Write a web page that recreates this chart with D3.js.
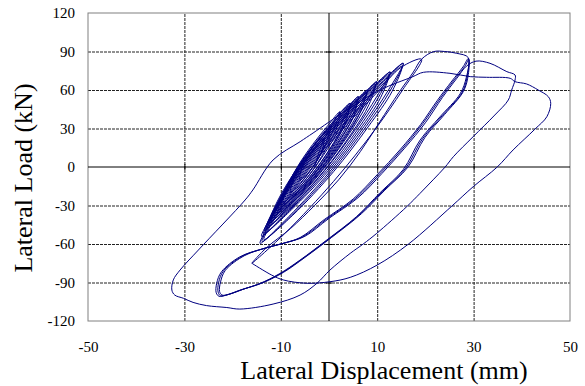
<!DOCTYPE html>
<html><head><meta charset="utf-8">
<script src="https://cdn.jsdelivr.net/npm/d3@7"></script>
<style>body{margin:0;background:#fff}svg{display:block}</style>
</head><body>
<svg id="c" width="585" height="386"></svg>
<script>
// ---- tick values / labels ----
const xTicks = [-50, -30, -10, 10, 30, 50];
const yTicks = [-120, -90, -60, -30, 0, 30, 60, 90, 120];
const xGrid = [-30, -10, 10, 30];
const yGrid = [-90, -60, -30, 30, 60, 90];
const xTitle = "Lateral Displacement (mm)";
const yTitle = "Lateral Load (kN)";

// ---- hysteresis record: [displacement mm, load kN] ----
const coreCycles = [
  [-3,0],[-2,12],
  [-1,22],[-1.15,17.2],[-1.67,10.8],[-2.8,2.8],[-4.53,-5.2],[-6,-10],[-5.97,-5.2],[-5.2,2.8],[-3.83,10.8],[-2.35,17.2],[-1,22],
  [0.5,32],[-0.1,24.2],[-1.2,13.8],[-3.2,0.8],[-5.9,-12.2],[-8,-20],[-7.6,-12.2],[-6.0,0.8],[-3.7,13.8],[-1.5,24.2],[0.5,32],
  [2.3,43],[1.3,32],[-0.6,17.5],[-3.5,-0.8],[-7.2,-19],[-10,-30],[-9.1,-19],[-6.7,-0.8],[-3.4,17.5],[-0.3,32],[2.3,43],
  [1.7,31.5],[-0.2,17],[-3.1,-1],[-6.8,-18.5],[-9.6,-28],[-8.8,-18],[-6.4,-0.5],[-3.1,17],[0,31],[2.0,41],
  [4.4,49.6],[3.0,36.8],[0.6,19.6],[-3.2,-1.8],[-7.8,-23.2],[-11.2,-36],[-9.9,-23.2],[-6.8,-1.8],[-2.7,19.6],[1.2,36.8],[4.4,49.6],
  [3.4,36.5],[1.0,19.2],[-2.8,-2],[-7.4,-22.5],[-10.8,-34],[-9.6,-22.5],[-6.5,-1.5],[-2.4,19.5],[1.5,36.5],[4.1,47.5],
  [3.6,36],[1.3,19],[-2.5,-2.2],[-7.1,-22],[-10.5,-33],[-9.3,-22],[-6.2,-1.3],[-2.1,19.3],[1.7,36],[4.0,46.5],
  [6.1,54.8],[4.4,40.4],[1.5,21.3],[-2.9,-2.7],[-8.3,-26.6],[-12.2,-41],[-10.7,-26.6],[-6.9,-2.7],[-2.1,21.3],[2.4,40.4],[6.1,54.8],
  [4.8,40],[1.9,21],[-2.5,-2.8],[-7.9,-26],[-11.8,-39.5],[-10.4,-26],[-6.6,-2.5],[-1.8,21],[2.7,40],[5.8,52.5],
  [5.1,39.6],[2.3,20.7],[-2.1,-2.9],[-7.5,-25.5],[-11.4,-38],[-10.1,-25.5],[-6.3,-2.3],[-1.5,20.7],[3.0,39.6],[5.6,51.5],
  [8,60],[5.9,44.3],[2.6,23.3],[-2.4,-3],[-8.4,-29.3],[-12.8,-45],[-10.9,-29.3],[-6.6,-3],[-1.2,23.3],[3.8,44.3],[8,60],
  [6.3,44],[3.0,23],[-2.0,-3],[-8.0,-28.5],[-12.4,-43.5],[-10.6,-28.5],[-6.3,-2.8],[-0.9,23],[4.1,44],[7.7,58],
  [6.6,43.6],[3.4,22.8],[-1.6,-3],[-7.6,-27.8],[-12,-42],[-10.3,-27.8],[-6,-2.7],[-0.6,22.8],[4.4,43.6],[7.5,57],
  [9.9,66.5],[7.5,49.2],[3.8,26.1],[-1.8,-2.8],[-8.5,-31.7],[-13.3,-49],[-11.1,-31.7],[-6.2,-2.8],[-0.2,26.1],[5.3,49.2],[9.9,66.5],
  [7.9,49],[4.2,26],[-1.4,-2.8],[-8.1,-31],[-12.9,-47.5],[-10.8,-31],[-5.9,-2.6],[0.1,26],[5.6,49],[9.6,64.5],
  [8.3,48.6],[4.6,25.8],[-1,-2.8],[-7.7,-30.4],[-12.5,-46],[-10.5,-30.4],[-5.6,-2.5],[0.4,25.8],[5.9,48.6],[9.4,63.5],
  [12.7,74],[9.9,54.8],[5.5,29.2],[-0.9,-2.8],[-8.6,-34.8],[-14,-54],[-11.4,-34.8],[-5.7,-2.8],[1.2,29.2],[7.5,54.8],[12.7,74],
  [10.3,54.5],[5.9,29],[-0.5,-2.8],[-8.2,-34],[-13.6,-52.5],[-11.1,-34],[-5.4,-2.6],[1.5,29],[7.8,54.5],[12.4,72],
  [10.7,54],[6.3,28.8],[-0.1,-2.8],[-7.8,-33.4],[-13.2,-51],[-10.8,-33.4],[-5.1,-2.5],[1.8,28.8],[8.1,54],[12.2,71],
  [15.4,80.8],[12.3,59.8],[7.3,31.7],[0.2,-3.4],[-8.3,-38.5],[-14.3,-59.5],[-11.4,-38.5],[-5.0,-3.4],[2.7,31.7],[9.6,59.8],[15.4,80.8],
  [12.7,59.5],[7.7,31.5],[0.6,-3.4],[-7.9,-38],[-13.9,-58],[-11.1,-38],[-4.7,-3.2],[3.0,31.5],[9.9,59.5],[15.1,78.5],
  [13.1,59],[8.1,31.2],[1,-3.4],[-7.5,-37.5],[-13.5,-56.5],[-10.8,-37.5],[-4.4,-3],[3.3,31.2],[10.2,59],[14.9,77.5],
  [19.2,84],[15.3,60.2],[9.4,28.4],[0.9,-11.4],[-9.0,-51.2],[-16,-75],
  [-13,-63],[-8,-48],[-3,-30],[2,-10],[6.5,12],[10.5,35],[14.5,58],[17.5,74],[19.2,84],
  [21.7,89.9],[24,90],[26.5,88.6],[28.9,85.2]
];
const bigCycles = [
  [28.5,70],[27.2,57],[23,39],[18.9,21],[15.4,-2],[10.6,-20],[5.7,-38.7],[-0.5,-57],[-6,-72.5],[-10.2,-83],[-14.5,-91],[-18.5,-96],[-21.5,-100],[-22.8,-100.8],[-23.4,-98],
  [-23.3,-90.6],[-22.3,-81.6],[-18.5,-70],[-14,-64],[-10,-60],[-6,-55],[-1,-41],[5,-25],[10,-6],[14.7,13.3],[19,33],[22.5,52],[25.5,67],[27.8,78],[28.9,84.5],
  [28.7,71],[27.6,58],[23.5,40],[19.4,22],[15.9,-1],[11.1,-19],[6.2,-37.5],[0,-56],[-5.5,-71.5],[-9.8,-82.5],[-14,-90.5],[-18,-95.5],[-21,-99.5],[-22.5,-100.3],[-23,-97.5],
  [-22.9,-90],[-21.9,-81],[-18,-69.5],[-13.5,-63.5],[-9.5,-59.5],[-5.5,-54.5],[-0.5,-40.5],[5.5,-24.5],[10.5,-5.5],[15.2,14],[19.5,34],[23,53],[26,68],[28.2,78.5],[29,83.8],
  [28.9,72],[27.9,59],[24,41],[19.9,23],[16.4,0],[11.6,-18],[6.7,-36.5],[0.5,-55],[-5,-70.5],[-9.4,-82],[-13.6,-90],[-17.6,-95],[-20.6,-99],[-22.2,-99.8],[-22.7,-97],
  [-22.5,-89.5],[-21.5,-80.5],[-17.5,-69],[-13,-63],[-9,-59],[-5,-54],[0,-40],[6,-24],[11,-5],[15.7,14.7],[20,34.5],[23.5,54],[26.5,69],[28.5,78.5],[30.5,82.5],[33.4,80.8],[36.9,74.3],[38.6,71.7],[38.6,67.8]
];
const finalCycles = [
  [37.9,60],[37.2,52.2],[34.4,40.5],[29.9,23.6],[25.8,8],[24.1,0],[21.6,-10],[18.9,-20.5],[16.1,-31],[9.9,-51.7],[7.1,-60],[4.4,-67.3],[0.2,-80.3],[-2.5,-90.6],[-6,-99.8],[-11.6,-106.8],[-18.5,-110.7],[-21.2,-109.5],[-25.4,-108],[-28.2,-105.5],[-30.2,-102.3],[-32,-99.8],[-32.6,-95.9],[-32.3,-88],[-30.9,-80.3],[-27.1,-64.7],
  [-17.4,-25.7],[-15.8,-17.9],[-11.6,5.5],[-6,19.7],[-3.3,26.5],[3.7,44.4],[10.6,60],[17.4,70.4],[19.6,73.8],[25.1,73],[29.3,70.4],[32.7,69.9],[37.6,69.1],[38.6,66.5],[41,64.7],[43.4,60],[45.5,54.8],[46,49.6],
  [45.2,39.2],[42.7,29.4],[38.2,13.3],[34.9,0],[29.9,-15.4],[25.5,-30.4],[16.5,-60],[10,-76.4],[4.4,-86],[0.2,-89.4],[-4.6,-90.6],[-9.5,-88],[-11.9,-84.2],[-16,-75]
];

// ---- layout ----
const L = 88, R = 570, T = 13, B = 321;
const svg = d3.select("#c");
const x = d3.scaleLinear().domain([-50, 50]).range([L, R]);
const y = d3.scaleLinear().domain([-120, 120]).range([B, T]);
const font = "'Liberation Serif','Times New Roman',serif";
const fmt = d => String(d);

// grid
svg.append("g").attr("transform", `translate(0,${B})`)
  .call(d3.axisBottom(x).tickValues(xGrid).tickSize(-(B - T)).tickFormat(""))
  .call(g => g.select(".domain").remove())
  .call(g => g.selectAll("line").attr("stroke", "#222").attr("stroke-dasharray", "3,1"));
svg.append("g").attr("transform", `translate(${L},0)`)
  .call(d3.axisLeft(y).tickValues(yGrid).tickSize(-(R - L)).tickFormat(""))
  .call(g => g.select(".domain").remove())
  .call(g => g.selectAll("line").attr("stroke", "#222").attr("stroke-dasharray", "3,1"));

// frame
svg.append("rect").attr("x", L).attr("y", T).attr("width", R - L).attr("height", B - T)
  .attr("fill", "none").attr("stroke", "#808080").attr("stroke-width", 1);

// zero axes with small ticks
svg.append("g").attr("transform", `translate(0,${y(0)})`)
  .call(d3.axisBottom(x).tickValues(xGrid).tickSize(3).tickFormat(""))
  .call(g => g.select(".domain").attr("d", `M${L},0H${R}`).attr("stroke", "#000"))
  .call(g => g.selectAll(".tick line").attr("y1", -3).attr("stroke", "#000"));
svg.append("g").attr("transform", `translate(${x(0)},0)`)
  .call(d3.axisLeft(y).tickValues(yGrid).tickSize(3).tickFormat(""))
  .call(g => g.select(".domain").attr("d", `M0,${T}V${B}`).attr("stroke", "#000"))
  .call(g => g.selectAll(".tick line").attr("x1", 3).attr("stroke", "#000"));

// tick labels
svg.append("g").attr("transform", `translate(${L},0)`)
  .call(d3.axisLeft(y).tickValues(yTicks).tickSize(0).tickPadding(13).tickFormat(fmt))
  .call(g => g.select(".domain").remove())
  .call(g => g.selectAll("text").attr("font-family", font).attr("font-size", 15).attr("fill", "#000"));
svg.append("g").attr("transform", `translate(0,${B})`)
  .call(d3.axisBottom(x).tickValues(xTicks).tickSize(0).tickPadding(20).tickFormat(fmt))
  .call(g => g.select(".domain").remove())
  .call(g => g.selectAll("text").attr("font-family", font).attr("font-size", 15).attr("fill", "#000"));

// titles
svg.append("text").attr("x", 384).attr("y", 379).attr("text-anchor", "middle")
  .attr("font-family", font).attr("font-size", 26).text(xTitle);
svg.append("text").attr("transform", "translate(32,178) rotate(-90)").attr("text-anchor", "middle")
  .attr("font-family", font).attr("font-size", 26).text(yTitle);

// curve
const pts = coreCycles.concat(bigCycles, finalCycles);
const line = d3.line().x(d => x(d[0])).y(d => y(d[1])).curve(d3.curveCatmullRom.alpha(0.5));
svg.append("path").datum(pts).attr("d", line)
  .attr("fill", "none").attr("stroke", "#000080").attr("stroke-width", 1).attr("stroke-linejoin", "round");
</script>
</body></html>
